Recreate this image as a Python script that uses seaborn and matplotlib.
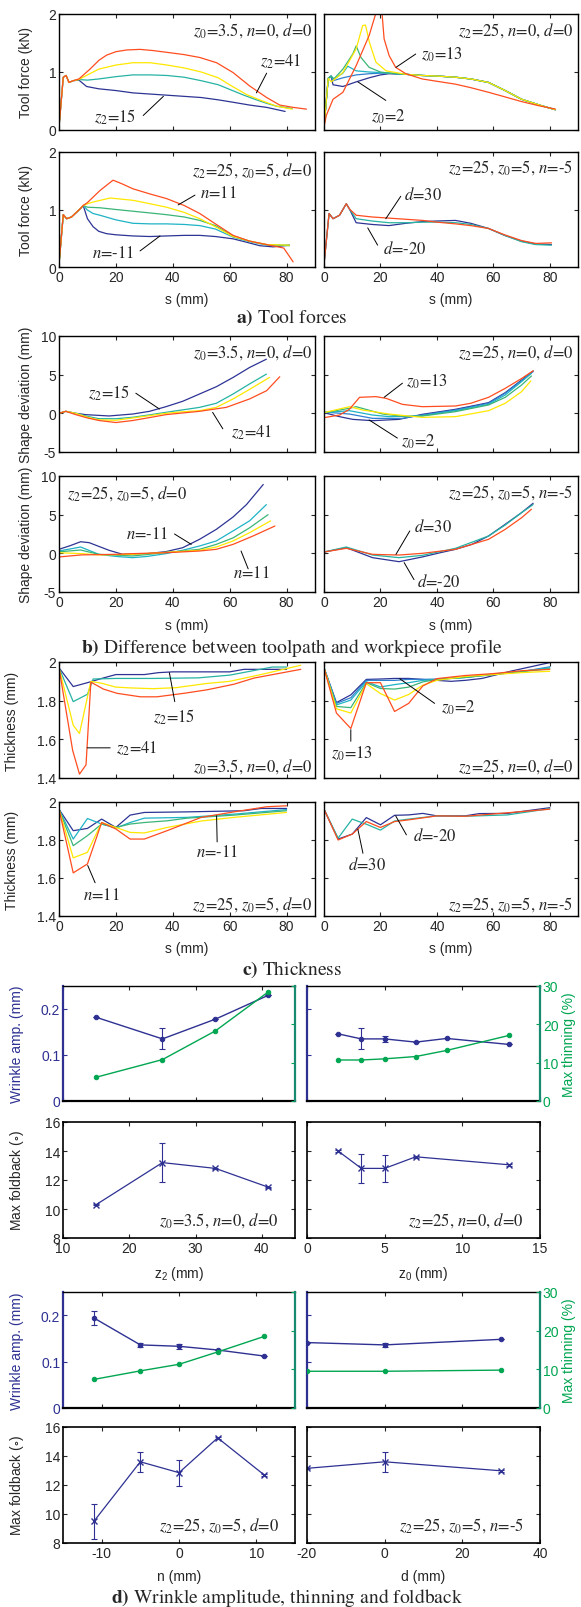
import numpy as np
import pandas as pd
import matplotlib
matplotlib.use('Agg')
import matplotlib.pyplot as plt
from matplotlib.ticker import FuncFormatter
import seaborn as sns

sns.set_style('ticks')
plt.rcParams['font.family'] = ['Liberation Sans', 'DejaVu Sans']
plt.rcParams['mathtext.fontset'] = 'stix'
plt.rcParams['axes.unicode_minus'] = False

# ---------------- data ----------------
# a) tool force (kN) vs s (mm)
force_z2 = {
    '15': ([0, 1.5, 2.5, 3.5, 5, 7, 9.7, 14, 20, 26, 32, 38, 44, 50, 56, 61, 67, 73, 79.5],
           [0.05, 0.91, 0.94, 0.82, 0.85, 0.86, 0.75, 0.71, 0.68, 0.64, 0.62, 0.60, 0.58, 0.56, 0.52, 0.48, 0.43, 0.39, 0.32]),
    '25': ([0, 1.5, 2.5, 3.5, 5, 7, 10, 14, 20, 26, 32, 38, 44, 50, 56, 61, 65, 69.4, 73, 76.5, 82],
           [0.05, 0.91, 0.94, 0.82, 0.85, 0.87, 0.86, 0.88, 0.92, 0.95, 0.95, 0.94, 0.91, 0.85, 0.78, 0.68, 0.60, 0.52, 0.46, 0.41, 0.37]),
    '33': ([0, 1.5, 2.5, 3.5, 5, 7, 10, 14, 20, 26, 32, 38, 44, 50, 56, 61, 66, 71, 76.5, 82],
           [0.05, 0.91, 0.94, 0.82, 0.85, 0.87, 0.95, 1.05, 1.12, 1.16, 1.16, 1.12, 1.07, 1.0, 0.90, 0.75, 0.61, 0.51, 0.41, 0.36]),
    '41': ([0, 1.5, 2.5, 3.5, 5, 7, 10.9, 14, 16.7, 20, 23.8, 28.5, 33, 37.8, 44, 49.5, 55.4, 61.2, 67, 73, 77.6, 82.3, 87],
           [0.05, 0.91, 0.94, 0.82, 0.85, 0.88, 1.05, 1.20, 1.29, 1.35, 1.38, 1.39, 1.37, 1.34, 1.30, 1.25, 1.16, 0.99, 0.76, 0.56, 0.43, 0.39, 0.36]),
}
force_z0_tail_s = [29, 34.8, 40, 46.6, 52, 58.3, 64.2, 70, 77, 82]
force_z0_tail_v = [0.96, 0.94, 0.93, 0.91, 0.88, 0.82, 0.68, 0.53, 0.42, 0.35]
force_z0 = {
    '2': ([0, 0.8, 1.5, 2.5, 3.2, 6.7, 11.4, 16, 20, 23] + force_z0_tail_s,
          [0.05, 0.5, 0.89, 0.93, 0.78, 0.75, 0.83, 0.90, 0.95, 0.97] + force_z0_tail_v),
    '3.5': ([0, 1.5, 2.5, 3.2, 6.7, 11.4, 16, 20, 23] + force_z0_tail_s,
            [0.05, 0.89, 0.93, 0.85, 0.90, 0.95, 0.97, 0.98, 0.98] + force_z0_tail_v),
    '5': ([0, 1.5, 2.5, 3.5, 6.7, 8.4, 11.4, 16, 20, 23] + force_z0_tail_s,
          [0.05, 0.89, 0.93, 0.88, 0.98, 1.10, 1.02, 1.0, 0.99, 0.98] + force_z0_tail_v),
    '7': ([0, 1.5, 2.5, 3.5, 6.7, 10.2, 11.4, 13.1, 16, 20, 23] + force_z0_tail_s,
          [0.05, 0.89, 0.93, 0.88, 1.05, 1.31, 1.45, 1.25, 1.08, 1.0, 0.98] + force_z0_tail_v),
    '9': ([0, 1.5, 2.6, 6.7, 11.4, 13.7, 14.7, 16.1, 18.4, 22] + force_z0_tail_s,
          [0.05, 0.89, 0.83, 0.99, 1.40, 1.80, 1.81, 1.51, 1.17, 1.02] + force_z0_tail_v),
    '13': ([0, 0.8, 3.2, 6.7, 11.4, 16, 18.6, 20.5, 21.3, 23.1, 25.4, 29, 34.8, 40, 46.6, 52, 58.3, 64.2, 70, 76, 82],
           [0.05, 0.25, 0.53, 0.65, 1.11, 1.63, 2.05, 2.05, 1.57, 1.28, 1.08, 0.97, 0.88, 0.84, 0.79, 0.73, 0.65, 0.57, 0.49, 0.42, 0.36]),
}
force_n = {
    '-11': ([0, 1.5, 2.7, 4.4, 7.4, 8.5, 10, 12, 14, 16.7, 20, 26, 32, 37.8, 44, 49.5, 55, 61.2, 66, 70.6, 75.3, 81],
            [0.05, 0.91, 0.84, 0.87, 1.01, 1.07, 0.84, 0.70, 0.62, 0.58, 0.56, 0.54, 0.53, 0.54, 0.55, 0.55, 0.53, 0.49, 0.43, 0.37, 0.35, 0.38]),
    '-5': ([0, 1.5, 2.7, 4.4, 7.4, 8.5, 10, 12, 14.4, 20, 26, 32, 37.8, 44, 49.5, 55, 61.2, 67, 73, 81],
           [0.05, 0.91, 0.84, 0.87, 1.01, 1.07, 0.99, 0.93, 0.90, 0.82, 0.76, 0.75, 0.75, 0.74, 0.72, 0.66, 0.52, 0.44, 0.38, 0.38]),
    '0': ([0, 1.5, 2.7, 4.4, 7.4, 8.5, 10, 14.4, 20, 26, 32, 37.8, 44, 49.5, 55, 61.2, 67, 73, 81],
          [0.05, 0.91, 0.84, 0.87, 1.01, 1.07, 1.04, 1.03, 1.0, 0.97, 0.94, 0.91, 0.87, 0.81, 0.72, 0.54, 0.45, 0.39, 0.37]),
    '5': ([0, 1.5, 2.7, 4.4, 7.4, 8.5, 10, 12, 18, 26, 32, 37.8, 44, 49.5, 55, 61.2, 67, 73, 81],
          [0.05, 0.91, 0.84, 0.87, 1.01, 1.07, 1.10, 1.13, 1.20, 1.16, 1.10, 1.04, 0.95, 0.84, 0.70, 0.53, 0.45, 0.39, 0.38]),
    '11': ([0, 1.5, 2.7, 4.4, 7.4, 8.5, 10, 14.4, 19, 22, 26, 32, 37.8, 44, 49.5, 55, 61.2, 67, 73, 79, 82.3],
           [0.05, 0.91, 0.84, 0.87, 1.01, 1.07, 1.12, 1.33, 1.51, 1.45, 1.36, 1.27, 1.19, 1.07, 0.93, 0.75, 0.55, 0.45, 0.39, 0.33, 0.09]),
}
force_d = {
    '-20': ([0, 1.8, 3.2, 5.5, 7.9, 9, 11.4, 17, 23, 29, 35, 40, 46.6, 52, 58.3, 64, 70, 75, 80.6],
            [0.05, 0.93, 0.84, 0.90, 1.10, 1.01, 0.77, 0.74, 0.72, 0.76, 0.79, 0.80, 0.81, 0.76, 0.67, 0.55, 0.45, 0.40, 0.39]),
    '0': ([0, 1.8, 3.2, 5.5, 7.9, 9, 11.4, 17, 23, 29, 35, 40, 46.6, 52, 58.3, 64, 70, 75, 80.6],
          [0.05, 0.93, 0.84, 0.90, 1.10, 1.01, 0.84, 0.80, 0.77, 0.77, 0.78, 0.78, 0.77, 0.74, 0.67, 0.55, 0.44, 0.39, 0.38]),
    '30': ([0, 1.8, 3.2, 5.5, 7.9, 9, 11.4, 17, 23, 29, 35, 40, 46.6, 52, 58.3, 64, 70, 75, 80.6],
           [0.05, 0.93, 0.84, 0.90, 1.10, 1.01, 0.90, 0.87, 0.85, 0.83, 0.81, 0.78, 0.75, 0.72, 0.67, 0.56, 0.46, 0.41, 0.42]),
}

# b) shape deviation (mm) vs s (mm)
dev_z2 = {
    '15': ([0, 2.4, 5.9, 9.4, 17.6, 25.9, 31.8, 37.6, 43.5, 49.4, 55.3, 61.2, 67, 72.9],
           [0, 0.26, 0, -0.17, -0.34, -0.09, 0.26, 0.86, 1.56, 2.5, 3.44, 4.64, 5.93, 7.0]),
    '25': ([0, 2.4, 5.9, 10, 14, 20, 25.9, 31.8, 37.6, 43.5, 49.4, 55.3, 61.2, 67, 72.9],
           [0, 0.26, 0, -0.4, -0.69, -0.7, -0.51, -0.2, 0.13, 0.45, 0.77, 1.3, 2.5, 3.8, 5.07]),
    '33': ([0, 2.4, 5.9, 10, 14, 20, 25.9, 31.8, 37.6, 43.5, 49.4, 55.3, 61.2, 67, 74],
           [0, 0.26, 0, -0.5, -0.84, -0.9, -0.6, -0.3, 0, 0.2, 0.34, 0.77, 1.86, 3.1, 4.64]),
    '41': ([0, 2.4, 5.9, 10, 14.1, 20, 25.9, 31.8, 37.6, 43.5, 49.4, 58.8, 67, 73, 77.6],
           [0, 0.26, -0.17, -0.6, -0.93, -1.19, -0.93, -0.55, -0.17, 0.05, 0.26, 0.77, 1.86, 2.93, 4.73]),
}
dev_z0 = {
    '2': ([0, 5.5, 10.2, 17.2, 26.6, 34.8, 46.6, 58.3, 64.2, 70, 74.1],
          [0.09, -0.43, -0.78, -0.95, -0.78, -0.13, 0.52, 1.38, 2.67, 4.3, 5.47]),
    '3.5': ([0, 9, 17.2, 27.8, 34.8, 46.6, 58.3, 64.2, 70, 74.1],
            [0.17, -0.09, -0.65, -0.65, -0.22, 0.43, 1.3, 2.6, 4.2, 5.4]),
    '5': ([0, 9, 17.2, 23, 34.8, 46.6, 58.3, 64.2, 70, 73.5],
          [0.09, 0.34, -0.22, -0.43, -0.3, 0.34, 1.16, 2.37, 4.1, 5.17]),
    '7': ([0, 9, 11.4, 20.8, 29, 34.8, 46.6, 58.3, 64.2, 70, 73.5],
          [0.09, 0.65, 0.86, -0.09, -0.43, -0.35, 0.22, 1.08, 2.07, 3.66, 4.83]),
    '9': ([0, 9, 13.7, 23, 34.8, 46.6, 58.3, 64.2, 70, 73.3],
          [0.09, 0.86, 0.43, -0.09, -0.52, -0.43, 0.34, 1.3, 2.8, 4.2]),
    '13': ([0, 5.5, 9, 12.6, 18.4, 22, 27.8, 34.8, 46.6, 52, 58.3, 64.2, 70, 74.1],
           [-0.56, -0.22, 0.52, 2.07, 2.16, 1.94, 1.16, 0.86, 0.95, 1.3, 2.07, 3.23, 4.5, 5.5]),
}
dev_n = {
    '-11': ([0, 4, 7.6, 10.6, 17.6, 22.4, 31, 37.6, 43.5, 49.4, 55.3, 61.2, 65.9, 71.8],
            [0.52, 1.0, 1.5, 1.38, 0.39, -0.13, -0.04, 0.22, 0.73, 1.81, 3.1, 4.7, 6.3, 8.9]),
    '-5': ([0, 7.6, 14, 20, 25.9, 31, 37.6, 43.5, 49.4, 55.3, 61.2, 67, 72.9],
           [0.3, 0.82, -0.13, -0.4, -0.56, -0.4, -0.04, 0.4, 0.95, 1.6, 2.9, 4.2, 6.3]),
    '0': ([0, 7.6, 14, 25.9, 37.6, 49.4, 55.3, 61.2, 67, 73.5],
          [0.2, 0.43, -0.13, -0.34, 0.1, 0.52, 1.16, 2.0, 3.3, 5.0]),
    '5': ([0, 8, 14, 25.9, 37.6, 49.4, 55.3, 61.2, 67, 74.4],
          [0.08, -0.04, -0.2, -0.13, 0.13, 0.39, 0.82, 1.6, 2.67, 4.2]),
    '11': ([0, 8, 20, 25.9, 37.6, 49.4, 55.3, 61.2, 68.2, 75.9],
           [-0.47, -0.2, -0.13, -0.04, 0.08, 0.3, 0.52, 1.16, 2.24, 3.53]),
}
dev_d = {
    '-20': ([0, 7.9, 17.2, 26.6, 34.8, 40.7, 46.6, 52.4, 58.3, 64.2, 70, 74.1],
            [0.17, 0.73, -0.56, -1.08, -0.47, 0.04, 0.52, 1.16, 2.24, 3.75, 5.26, 6.47]),
    '0': ([0, 7.9, 17.2, 26.6, 34.8, 46.6, 58.3, 64.2, 70, 74.1],
          [0.17, 0.82, -0.22, -0.56, -0.26, 0.65, 2.24, 3.66, 5.26, 6.3]),
    '30': ([0, 7.9, 17.2, 26.6, 34.8, 46.6, 58.3, 64.2, 70, 73.5],
           [0.17, 0.65, -0.13, -0.22, 0, 0.52, 1.81, 3.1, 4.6, 5.7]),
}

# c) thickness (mm) vs s (mm)
thk_z2 = {
    '15': ([0, 5, 10, 15, 20, 30, 35, 40, 60, 65, 80],
           [1.97, 1.873, 1.893, 1.915, 1.935, 1.935, 1.945, 1.949, 1.949, 1.962, 1.962]),
    '25': ([0, 5, 10, 12, 20, 33, 49, 60, 75, 80],
           [1.97, 1.795, 1.833, 1.912, 1.915, 1.915, 1.918, 1.932, 1.974, 1.974]),
    '33': ([0, 5, 7.2, 11.2, 15, 20, 25, 33, 41, 52, 60, 71, 85],
           [1.97, 1.673, 1.63, 1.9, 1.89, 1.87, 1.866, 1.862, 1.867, 1.889, 1.9, 1.935, 1.983]),
    '41': ([0, 4.8, 7.2, 9.5, 11.2, 15.6, 20.4, 28.6, 34.5, 43.9, 52, 61.5, 68.6, 85],
           [1.97, 1.543, 1.42, 1.468, 1.896, 1.86, 1.838, 1.82, 1.82, 1.838, 1.856, 1.885, 1.917, 1.962]),
}
thk_z0 = {
    '2': ([0, 4.4, 9.5, 15, 20, 25, 30, 35, 40, 45, 50, 56, 66, 80],
          [1.97, 1.79, 1.83, 1.91, 1.912, 1.915, 1.915, 1.91, 1.905, 1.9, 1.905, 1.915, 1.952, 1.997]),
    '3.5': ([0, 4.4, 9.5, 15, 20, 25, 30, 35, 40, 50, 60, 70, 80],
            [1.97, 1.786, 1.815, 1.905, 1.905, 1.905, 1.91, 1.91, 1.912, 1.92, 1.935, 1.95, 1.975]),
    '5': ([0, 4.4, 9.5, 15, 20, 25, 30, 35, 40, 50, 60, 70, 80],
          [1.97, 1.778, 1.803, 1.898, 1.871, 1.883, 1.893, 1.905, 1.91, 1.92, 1.938, 1.952, 1.97]),
    '7': ([0, 4.4, 9.5, 15, 20, 25, 30, 35, 40, 50, 60, 70, 80],
          [1.97, 1.77, 1.764, 1.893, 1.863, 1.86, 1.87, 1.897, 1.91, 1.92, 1.935, 1.95, 1.965]),
    '9': ([0, 4.4, 9.5, 15, 20, 25, 30, 35, 40, 50, 60, 70, 80],
          [1.97, 1.758, 1.736, 1.888, 1.837, 1.803, 1.832, 1.88, 1.905, 1.925, 1.935, 1.945, 1.952]),
    '13': ([0, 4.4, 9.5, 15, 20, 25, 30, 35, 40, 50, 60, 70, 80],
           [1.97, 1.736, 1.656, 1.893, 1.893, 1.744, 1.786, 1.876, 1.914, 1.93, 1.94, 1.955, 1.962]),
}
thk_n = {
    '-11': ([0, 5, 10, 15, 20, 25, 30, 45, 65, 71, 80],
            [1.962, 1.849, 1.861, 1.91, 1.866, 1.931, 1.945, 1.948, 1.954, 1.966, 1.966]),
    '-5': ([0, 5, 10, 15, 20, 25, 30, 45, 61.5, 80],
           [1.962, 1.805, 1.913, 1.884, 1.863, 1.892, 1.915, 1.919, 1.936, 1.96]),
    '0': ([0, 5, 10, 15, 20, 25, 30, 38, 45, 61.5, 80],
          [1.962, 1.77, 1.823, 1.884, 1.866, 1.884, 1.892, 1.901, 1.915, 1.931, 1.954]),
    '5': ([0, 5, 10, 15, 20, 25, 30, 38, 50, 61.5, 80],
          [1.962, 1.706, 1.735, 1.892, 1.866, 1.84, 1.837, 1.866, 1.9, 1.919, 1.945]),
    '11': ([0, 5, 10, 15, 20, 25, 30, 38, 50, 61.5, 73, 80],
           [1.962, 1.627, 1.674, 1.892, 1.858, 1.805, 1.805, 1.849, 1.919, 1.948, 1.975, 1.98]),
}
thk_d = {
    '-20': ([0, 5, 10, 15, 20, 25, 30, 35, 40, 50, 55, 65, 80],
            [1.962, 1.805, 1.831, 1.918, 1.88, 1.93, 1.932, 1.94, 1.927, 1.927, 1.939, 1.94, 1.97]),
    '0': ([0, 5, 10, 15, 20, 25, 30, 40, 50, 65, 80],
          [1.962, 1.81, 1.91, 1.883, 1.852, 1.9, 1.91, 1.927, 1.925, 1.932, 1.965]),
    '30': ([0, 5, 10, 15, 20, 25, 30, 40, 50, 60, 80],
           [1.962, 1.8, 1.831, 1.897, 1.866, 1.897, 1.906, 1.927, 1.925, 1.937, 1.962]),
}

# d) wrinkle amplitude (mm), max thinning (%), max foldback (deg)
z2_vals = [15, 25, 33, 41]
wr_z2 = [0.182, 0.135, 0.178, 0.230]
wr_z2_err = [0, 0.023, 0, 0]
th_z2 = [6.2, 10.8, 18.3, 28.5]
fb_z2 = [10.3, 13.2, 12.8, 11.5]
fb_z2_err = [0.05, 1.35, 0.05, 0.05]

z0_vals = [2, 3.5, 5, 7, 9, 13]
wr_z0 = [0.146, 0.135, 0.135, 0.128, 0.136, 0.123]
wr_z0_err = [0, 0.023, 0.007, 0, 0, 0]
th_z0 = [10.7, 10.7, 11.0, 11.6, 13.2, 17.1]
z0_fb_vals = [2, 3.5, 5, 7, 13]
fb_z0 = [14.0, 12.8, 12.8, 13.6, 13.05]
fb_z0_err = [0.05, 1.0, 0.95, 0.05, 0.05]

n_vals = [-11, -5, 0, 5, 11]
wr_n = [0.194, 0.136, 0.133, 0.125, 0.112]
wr_n_err = [0.016, 0.004, 0.006, 0, 0]
th_n = [7.4, 9.6, 11.3, 14.5, 18.5]
fb_n = [9.5, 13.6, 12.85, 15.25, 12.7]
fb_n_err = [1.2, 0.7, 0.9, 0.05, 0.05]

d_vals = [-20, 0, 30]
wr_d = [0.141, 0.136, 0.148]
wr_d_err = [0, 0.004, 0]
th_d = [9.5, 9.5, 9.8]
fb_d = [13.15, 13.6, 12.98]
fb_d_err = [0.05, 0.7, 0.05]

# ---------------- styling ----------------
C_BLUE = '#2d3494'
C_LBLUE = '#2f7fd1'
C_CYAN = '#1fb3c6'
C_TEAL = '#26b3a3'
C_GREEN = '#3bb577'
C_YELLOW = '#ffe800'
C_RED = '#ff4d1f'
col4 = [C_BLUE, C_TEAL, C_YELLOW, C_RED]
col6 = [C_BLUE, C_LBLUE, C_CYAN, C_GREEN, C_YELLOW, C_RED]
col5 = [C_BLUE, C_CYAN, C_GREEN, C_YELLOW, C_RED]
col3 = [C_BLUE, C_TEAL, C_RED]
BLUE_D = '#2e3192'
GREEN_D = '#00a651'
SPINE_G = '#178a70'
SERIF = 'STIXGeneral'

W, H = 581, 1608
fig = plt.figure(figsize=(W / 100, H / 100), dpi=100)


def px(x0, y0, x1, y1):
    return [x0 / W, 1 - y1 / H, (x1 - x0) / W, (y1 - y0) / H]


def draw_curves(ax, curves, colors):
    rows = []
    for lab, (s, v) in curves.items():
        rows += [(lab, a, b) for a, b in zip(s, v)]
    df = pd.DataFrame(rows, columns=['case', 's', 'v'])
    sns.lineplot(data=df, x='s', y='v', hue='case', palette=dict(zip(curves.keys(), colors)),
                 sort=False, estimator=None, legend=False, lw=0.9, ax=ax)


def curve_panel(box, curves, colors, ylim, yticks, show_x, show_y, ylabel, ylab_x):
    ax = fig.add_axes(px(*box))
    draw_curves(ax, curves, colors)
    ax.set_xlim(0, 90)
    ax.set_ylim(*ylim)
    ax.set_xticks([0, 20, 40, 60, 80])
    ax.set_yticks(yticks)
    ax.yaxis.set_major_formatter(FuncFormatter(lambda v, p: f'{v:g}'))
    ax.tick_params(direction='in', top=True, right=True, length=3, width=0.8,
                   labelsize=10, labelbottom=show_x, labelleft=show_y, pad=2)
    ax.set_xlabel('s (mm)' if show_x else '', fontsize=10)
    ax.xaxis.set_label_coords(0.5, -0.22)
    ax.set_ylabel(ylabel if show_y else '', fontsize=10)
    ax.yaxis.set_label_coords(ylab_x, 0.5)
    for sp in ax.spines.values():
        sp.set_linewidth(1.0)
        sp.set_color('k')
    return ax


def tag(ax, text, x, y, ha='right', va='center'):
    ax.text(x, y, text, transform=ax.transAxes, ha=ha, va=va, fontsize=12, family=SERIF)


def note(ax, text, tx, ty, line, ha='left'):
    ax.text(tx, ty, text, ha=ha, va='center', fontsize=12, family=SERIF)
    ax.annotate('', xy=line[1], xytext=line[0],
                arrowprops=dict(arrowstyle='-', lw=0.7, color='k', shrinkA=0, shrinkB=0))


LX, RX = (59, 315), (324, 578)

# ---- a) tool forces
a1 = curve_panel((LX[0], 15, LX[1], 131), force_z2, col4, (0, 2), [0, 1, 2], False, True, 'Tool force (kN)', -0.10)
tag(a1, r'$z_0$=3.5, $n$=0, $d$=0', 0.99, 0.87)
note(a1, r'$z_2$=41', 70.5, 1.19, ((73, 0.98), (69.4, 0.64)))
note(a1, r'$z_2$=15', 19.7, 0.23, ((29.6, 0.25), (36.7, 0.58)), ha='center')

a2 = curve_panel((RX[0], 15, RX[1], 131), force_z0, col6, (0, 2), [0, 1, 2], False, False, '', 0)
tag(a2, r'$z_2$=25, $n$=0, $d$=0', 0.98, 0.87)
note(a2, r'$z_0$=13', 34.3, 1.32, ((32.5, 1.31), (25.5, 1.08)))
note(a2, r'$z_0$=2', 22.8, 0.25, ((21.9, 0.51), (12, 0.83)), ha='center')

a3 = curve_panel((LX[0], 153, LX[1], 268), force_n, col5, (0, 2), [0, 1, 2], True, True, 'Tool force (kN)', -0.10)
tag(a3, r'$z_2$=25, $z_0$=5, $d$=0', 0.99, 0.85)
note(a3, r'$n$=11', 49.5, 1.29, ((47.8, 1.25), (41.9, 1.08)))
note(a3, r'$n$=-11', 19.1, 0.25, ((28.5, 0.28), (35.5, 0.54)), ha='center')

a4 = curve_panel((RX[0], 153, RX[1], 268), force_d, col3, (0, 2), [0, 1, 2], True, False, '', 0)
tag(a4, r'$z_2$=25, $z_0$=5, $n$=-5', 0.98, 0.87)
note(a4, r'$d$=30', 28.4, 1.26, ((27.2, 1.23), (21.9, 0.84)))
note(a4, r'$d$=-20', 20.8, 0.33, ((19, 0.38), (15.5, 0.68)))

# ---- b) shape deviation
b1 = curve_panel((LX[0], 337, LX[1], 453), dev_z2, col4, (-5, 10), [-5, 0, 5, 10], False, True, 'Shape deviation (mm)', -0.10)
tag(b1, r'$z_0$=3.5, $n$=0, $d$=0', 0.99, 0.87)
note(b1, r'$z_2$=15', 17.6, 2.7, ((27, 2.6), (35.3, 0.56)), ha='center')
note(b1, r'$z_2$=41', 60.6, -2.45, ((57.6, -2.0), (54, 0.13)))

b2 = curve_panel((RX[0], 337, RX[1], 453), dev_z0, col6, (-5, 10), [-5, 0, 5, 10], False, False, '', 0)
tag(b2, r'$z_2$=25, $n$=0, $d$=0', 0.98, 0.87)
note(b2, r'$z_0$=13', 29, 4.2, ((27.8, 3.9), (21.3, 2.07)))
note(b2, r'$z_0$=2', 27.2, -3.5, ((26, -3.2), (16, -0.86)))

b3 = curve_panel((LX[0], 477, LX[1], 593), dev_n, col5, (-5, 10), [-5, 0, 5, 10], True, True, 'Shape deviation (mm)', -0.10)
tag(b3, r'$z_2$=25, $z_0$=5, $d$=0', 0.03, 0.86, ha='left')
note(b3, r'$n$=-11', 23.5, 2.5, ((40.6, 2.5), (46.5, 1.16)))
note(b3, r'$n$=11', 61, -2.6, ((66.5, -2.0), (64, 0.3)))

b4 = curve_panel((RX[0], 477, RX[1], 593), dev_d, col3, (-5, 10), [-5, 0, 5, 10], True, False, '', 0)
tag(b4, r'$z_2$=25, $z_0$=5, $n$=-5', 0.98, 0.87)
note(b4, r'$d$=30', 31.9, 3.5, ((30.4, 2.9), (25.5, -0.13)))
note(b4, r'$d$=-20', 33, -3.7, ((31.9, -3.4), (28.4, -1.2)))

# ---- c) thickness
c1 = curve_panel((LX[0], 663, LX[1], 779), thk_z2, col4, (1.4, 2), [1.4, 1.6, 1.8, 2], False, True, 'Thickness (mm)', -0.155)
tag(c1, r'$z_0$=3.5, $n$=0, $d$=0', 0.99, 0.11)
note(c1, r'$z_2$=15', 40.3, 1.72, ((40.7, 1.795), (38.8, 1.945)), ha='center')
note(c1, r'$z_2$=41', 20, 1.555, ((18, 1.556), (9.9, 1.556)))

c2 = curve_panel((RX[0], 663, RX[1], 779), thk_z0, col6, (1.4, 2), [1.4, 1.6, 1.8, 2], False, False, '', 0)
tag(c2, r'$z_2$=25, $n$=0, $d$=0', 0.98, 0.11)
note(c2, r'$z_0$=2', 41.6, 1.77, ((39.2, 1.786), (26.8, 1.914)))
note(c2, r'$z_0$=13', 10, 1.532, ((9.5, 1.59), (9.5, 1.65)), ha='center')

c3 = curve_panel((LX[0], 803, LX[1], 917), thk_n, col5, (1.4, 2), [1.4, 1.6, 1.8, 2], True, True, 'Thickness (mm)', -0.155)
tag(c3, r'$z_2$=25, $z_0$=5, $d$=0', 0.99, 0.11)
note(c3, r'$n$=-11', 55.6, 1.735, ((55.6, 1.79), (55.4, 1.927)), ha='center')
note(c3, r'$n$=11', 14.7, 1.51, ((12.7, 1.575), (10.1, 1.666)), ha='center')

c4 = curve_panel((RX[0], 803, RX[1], 917), thk_d, col3, (1.4, 2), [1.4, 1.6, 1.8, 2], True, False, '', 0)
tag(c4, r'$z_2$=25, $z_0$=5, $n$=-5', 0.98, 0.11)
note(c4, r'$d$=-20', 31.6, 1.823, ((29.2, 1.827), (25.4, 1.927)))
note(c4, r'$d$=30', 15.2, 1.67, ((13.8, 1.73), (12, 1.857)), ha='center')


# ---- d) wrinkle, thinning, foldback
def wrinkle_panel(box, x, wr, wr_err, th, xlim, xticks, left_labels, right_labels):
    ax = fig.add_axes(px(*box))
    sns.lineplot(x=x, y=wr, color=BLUE_D, marker='o', markersize=3.2, markeredgecolor=BLUE_D,
                 lw=1.0, ax=ax)
    ax.errorbar(x, wr, yerr=wr_err, fmt='none', ecolor=BLUE_D, elinewidth=0.8, capsize=2.5, capthick=0.8)
    ax.set_xlim(*xlim)
    ax.set_ylim(0, 0.25)
    ax.set_xticks(xticks)
    ax.set_yticks([0, 0.1, 0.2])
    ax.yaxis.set_major_formatter(FuncFormatter(lambda v, p: f'{v:g}'))
    ax.tick_params(direction='in', length=3, width=0.8, top=True, right=False, labelbottom=False,
                   labelleft=left_labels, labelsize=10, pad=2)
    ax.tick_params(axis='y', colors=BLUE_D)
    ax.spines['left'].set_color(BLUE_D)
    ax.spines['left'].set_linewidth(1.6)
    ax.spines['right'].set_visible(False)
    ax.spines['bottom'].set_linewidth(1.6)
    ax.spines['bottom'].set_color('k')
    ax.spines['top'].set_linewidth(1.0)
    ax.spines['top'].set_color('k')
    ax.set_xlabel('')
    if left_labels:
        ax.set_ylabel('Wrinkle amp. (mm)', color=BLUE_D, fontsize=10)
        ax.yaxis.set_label_coords(-0.17, 0.5)
    ax2 = ax.twinx()
    sns.lineplot(x=x, y=th, color=GREEN_D, marker='o', markersize=3.2, markeredgecolor=GREEN_D,
                 lw=1.0, ax=ax2)
    ax2.set_ylim(0, 30)
    ax2.set_yticks([0, 10, 20, 30])
    ax2.tick_params(axis='y', direction='in', length=3, width=0.8, colors=GREEN_D,
                    labelright=right_labels, labelsize=10, pad=2)
    for k in ('left', 'top', 'bottom'):
        ax2.spines[k].set_visible(False)
    ax2.spines['right'].set_color(SPINE_G)
    ax2.spines['right'].set_linewidth(1.6)
    if right_labels:
        ax2.set_ylabel('Max thinning (%)', color=GREEN_D, fontsize=10)
        ax2.yaxis.set_label_coords(1.095, 0.5)
    else:
        ax2.set_ylabel('')
    return ax


def foldback_panel(box, x, fb, fb_err, xlim, xticks, xlabel, left_labels, text):
    ax = fig.add_axes(px(*box))
    sns.lineplot(x=x, y=fb, color=BLUE_D, marker='x', markersize=4.5, markeredgecolor=BLUE_D,
                 markeredgewidth=1.0, lw=0.9, ax=ax)
    ax.errorbar(x, fb, yerr=fb_err, fmt='none', ecolor=BLUE_D, elinewidth=0.8, capsize=2.5, capthick=0.8)
    ax.set_xlim(*xlim)
    ax.set_ylim(8, 16)
    ax.set_xticks(xticks)
    ax.set_yticks([8, 10, 12, 14, 16])
    ax.tick_params(direction='in', length=3, width=0.8, top=True, right=True,
                   labelleft=left_labels, labelsize=10, pad=2)
    for sp in ax.spines.values():
        sp.set_linewidth(1.2)
        sp.set_color('k')
    ax.set_xlabel(xlabel, fontsize=10)
    ax.xaxis.set_label_coords(0.5, -0.225)
    if left_labels:
        ax.set_ylabel(r'Max foldback ($\circ$)', fontsize=10)
        ax.yaxis.set_label_coords(-0.16, 0.5)
    else:
        ax.set_ylabel('')
    tag(ax, text, 0.93, 0.16)
    return ax


DLX, DRX = (63, 295), (307, 540)
wrinkle_panel((DLX[0], 987, DLX[1], 1102), z2_vals, wr_z2, wr_z2_err, th_z2, (10, 45), [10, 20, 30, 40], True, False)
wrinkle_panel((DRX[0], 987, DRX[1], 1102), z0_vals, wr_z0, wr_z0_err, th_z0, (0, 15), [0, 5, 10, 15], False, True)
foldback_panel((DLX[0], 1123, DLX[1], 1239), z2_vals, fb_z2, fb_z2_err, (10, 45), [10, 20, 30, 40],
               r'$\mathregular{z_2}$ (mm)', True, r'$z_0$=3.5, $n$=0, $d$=0')
foldback_panel((DRX[0], 1123, DRX[1], 1239), z0_fb_vals, fb_z0, fb_z0_err, (0, 15), [0, 5, 10, 15],
               r'$\mathregular{z_0}$ (mm)', False, r'$z_2$=25, $n$=0, $d$=0')
wrinkle_panel((DLX[0], 1293, DLX[1], 1409), n_vals, wr_n, wr_n_err, th_n, (-15, 15), [-10, 0, 10], True, False)
wrinkle_panel((DRX[0], 1293, DRX[1], 1409), d_vals, wr_d, wr_d_err, th_d, (-20, 40), [-20, 0, 20, 40], False, True)
foldback_panel((DLX[0], 1428, DLX[1], 1544), n_vals, fb_n, fb_n_err, (-15, 15), [-10, 0, 10],
               'n (mm)', True, r'$z_2$=25, $z_0$=5, $d$=0')
foldback_panel((DRX[0], 1428, DRX[1], 1544), d_vals, fb_d, fb_d_err, (-20, 40), [-20, 0, 20, 40],
               'd (mm)', False, r'$z_2$=25, $z_0$=5, $n$=-5')

# ---- captions
for cx, cy, txt in [(292, 318, r'$\mathbf{a)}$ Tool forces'),
                    (292, 648, r'$\mathbf{b)}$ Difference between toolpath and workpiece profile'),
                    (292, 970, r'$\mathbf{c)}$ Thickness'),
                    (287, 1598, r'$\mathbf{d)}$ Wrinkle amplitude, thinning and foldback')]:
    fig.text(cx / W, 1 - cy / H, txt, ha='center', va='center', fontsize=14, family=SERIF)

fig.savefig('out.png', dpi=100)
